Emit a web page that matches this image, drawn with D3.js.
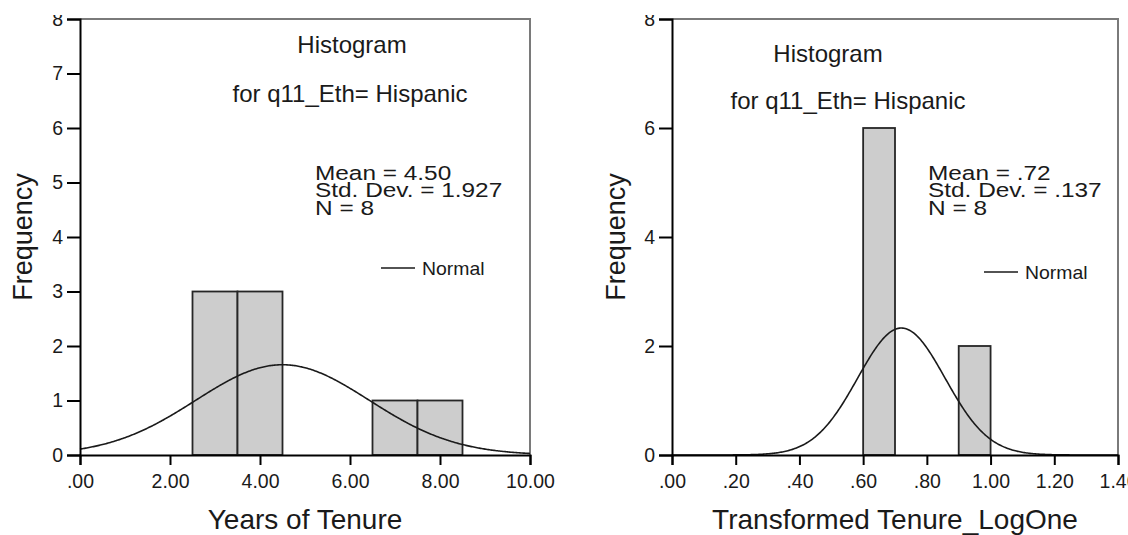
<!DOCTYPE html>
<html>
<head>
<meta charset="utf-8">
<script src="https://cdn.jsdelivr.net/npm/d3@7"></script>
<style>
  html, body { margin: 0; padding: 0; background: #fff; }
  svg { display: block; font-family: "Liberation Sans", Arial, sans-serif; }
</style>
</head>
<body>
<svg id="chart" width="1128" height="535"></svg>
<script>
// ---- Years of Tenure (q11_Eth = Hispanic) ----
const tenureBinStart = [2.5, 3.5, 6.5, 7.5];
const tenureBinEnd   = [3.5, 4.5, 7.5, 8.5];
const tenureCounts   = [3, 3, 1, 1];
const tenureXTicks   = [0, 2, 4, 6, 8, 10];
const tenureXLabels  = [".00", "2.00", "4.00", "6.00", "8.00", "10.00"];
const tenureYTicks   = [0, 1, 2, 3, 4, 5, 6, 7, 8];
const tenureStats    = [4.50, 1.927, 8];          // mean, std. dev., N
const tenureStatText = ["Mean = 4.50", "Std. Dev. = 1.927", "N = 8"];

// ---- Transformed Tenure_LogOne (q11_Eth = Hispanic) ----
const logBinStart    = [0.6, 0.9];
const logBinEnd      = [0.7, 1.0];
const logCounts      = [6, 2];
const logXTicks      = [0, 0.2, 0.4, 0.6, 0.8, 1.0, 1.2, 1.4];
const logXLabels     = [".00", ".20", ".40", ".60", ".80", "1.00", "1.20", "1.40"];
const logYTicks      = [0, 2, 4, 6, 8];
const logStats       = [0.72, 0.137, 8];
const logStatText    = ["Mean = .72", "Std. Dev. = .137", "N = 8"];

const W = 1128, H = 535;
const svg = d3.select("#chart");

// the output region is cut just above the top frame line
svg.append("defs").append("clipPath").attr("id", "cut")
  .append("rect").attr("x", 0).attr("y", 15).attr("width", W).attr("height", H - 15);
const root = svg.append("g").attr("clip-path", "url(#cut)");

// text helper; sx widens glyphs horizontally
function txt(g, x, y, s, size, anchor, rot, sx) {
  return g.append("text")
    .attr("transform", `translate(${x},${y})` + (rot ? ` rotate(${rot})` : "") + (sx ? ` scale(${sx},1)` : ""))
    .attr("font-size", size)
    .attr("text-anchor", anchor)
    .attr("fill", "#1a1a1a")
    .text(s);
}

function panel(cfg) {
  const g = root.append("g");
  const x = d3.scaleLinear().domain(cfg.xDomain).range([cfg.left, cfg.right]);
  const y = d3.scaleLinear().domain([0, 8]).range([cfg.bottom, cfg.top]);

  // frame (top and right, grey)
  g.append("path")
    .attr("d", `M${cfg.left},${cfg.top}H${cfg.right}V${cfg.bottom}`)
    .attr("fill", "none").attr("stroke", "#7a7a7a").attr("stroke-width", 2);

  // bars
  g.selectAll("rect.bar").data(cfg.counts).join("rect")
    .attr("class", "bar")
    .attr("x", (d, i) => x(cfg.binStart[i]))
    .attr("width", (d, i) => x(cfg.binEnd[i]) - x(cfg.binStart[i]))
    .attr("y", d => y(d))
    .attr("height", d => y(0) - y(d))
    .attr("fill", "#cdcdcd")
    .attr("stroke", "#262626")
    .attr("stroke-width", 1.8);

  // fitted normal curve: N * bin width * density
  const [mu, sd, n] = cfg.stats;
  const bw = cfg.binEnd[0] - cfg.binStart[0];
  const dens = v => n * bw * Math.exp(-0.5 * ((v - mu) / sd) ** 2) / (sd * Math.sqrt(2 * Math.PI));
  const xs = d3.range(0, 401).map(i => cfg.xDomain[0] + (cfg.xDomain[1] - cfg.xDomain[0]) * i / 400);
  g.append("path")
    .datum(xs)
    .attr("d", d3.line().x(v => x(v)).y(v => y(dens(v))))
    .attr("fill", "none").attr("stroke", "#1a1a1a").attr("stroke-width", 1.6);

  // y axis
  const ya = g.append("g").attr("transform", `translate(${cfg.left},0)`)
    .call(d3.axisLeft(y).tickValues(cfg.yTicks).tickFormat(d3.format("d")).tickSize(13).tickPadding(4));
  ya.select(".domain").attr("stroke", "#000").attr("stroke-width", 2);
  ya.selectAll(".tick line").attr("stroke", "#000").attr("stroke-width", 2);
  ya.selectAll(".tick text").attr("font-size", 19.5).attr("fill", "#1a1a1a")
    .attr("font-family", "Liberation Sans, Arial, sans-serif");

  // x axis
  const xa = g.append("g").attr("transform", `translate(0,${cfg.bottom})`)
    .call(d3.axisBottom(x).tickValues(cfg.xTicks).tickFormat((d, i) => cfg.xLabels[i]).tickSize(10).tickPadding(9));
  xa.select(".domain").attr("stroke", "#000").attr("stroke-width", 2);
  xa.selectAll(".tick line").attr("stroke", "#000").attr("stroke-width", 2);
  xa.selectAll(".tick text").attr("font-size", 19.5).attr("fill", "#1a1a1a")
    .attr("font-family", "Liberation Sans, Arial, sans-serif");

  // axis titles
  txt(g, (cfg.left + cfg.right) / 2, 529, cfg.xTitle, 28, "middle");
  txt(g, cfg.yTitleX, (cfg.top + cfg.bottom) / 2, "Frequency", 27, "middle", -90);

  // chart titles
  txt(g, cfg.titleX, cfg.titleY, "Histogram", 24, "middle");
  txt(g, cfg.subX, cfg.subY, "for q11_Eth= Hispanic", 24, "middle");

  // statistics block (tightly stacked lines)
  cfg.statText.forEach((s, i) => txt(g, cfg.statX, cfg.statY + i * 17.4, s, 20.5, "start", 0, 1.19));

  // legend
  g.append("line")
    .attr("x1", cfg.legX).attr("x2", cfg.legX + 34)
    .attr("y1", cfg.legY).attr("y2", cfg.legY)
    .attr("stroke", "#1a1a1a").attr("stroke-width", 1.6);
  txt(g, cfg.legX + 41, cfg.legY + 7, "Normal", 18, "start", 0, 1.08);
}

panel({
  left: 80, right: 530, top: 19, bottom: 455,
  xDomain: [0, 10], xTicks: tenureXTicks, xLabels: tenureXLabels, yTicks: tenureYTicks,
  binStart: tenureBinStart, binEnd: tenureBinEnd, counts: tenureCounts,
  stats: tenureStats, statText: tenureStatText,
  xTitle: "Years of Tenure", yTitleX: 32,
  titleX: 352, titleY: 53, subX: 350, subY: 102,
  statX: 315, statY: 180, legX: 381, legY: 268
});

panel({
  left: 672, right: 1118, top: 19, bottom: 455,
  xDomain: [0, 1.4], xTicks: logXTicks, xLabels: logXLabels, yTicks: logYTicks,
  binStart: logBinStart, binEnd: logBinEnd, counts: logCounts,
  stats: logStats, statText: logStatText,
  xTitle: "Transformed Tenure_LogOne", yTitleX: 625,
  titleX: 828, titleY: 62, subX: 848, subY: 109,
  statX: 928, statY: 180, legX: 984, legY: 272
});
</script>
</body>
</html>
